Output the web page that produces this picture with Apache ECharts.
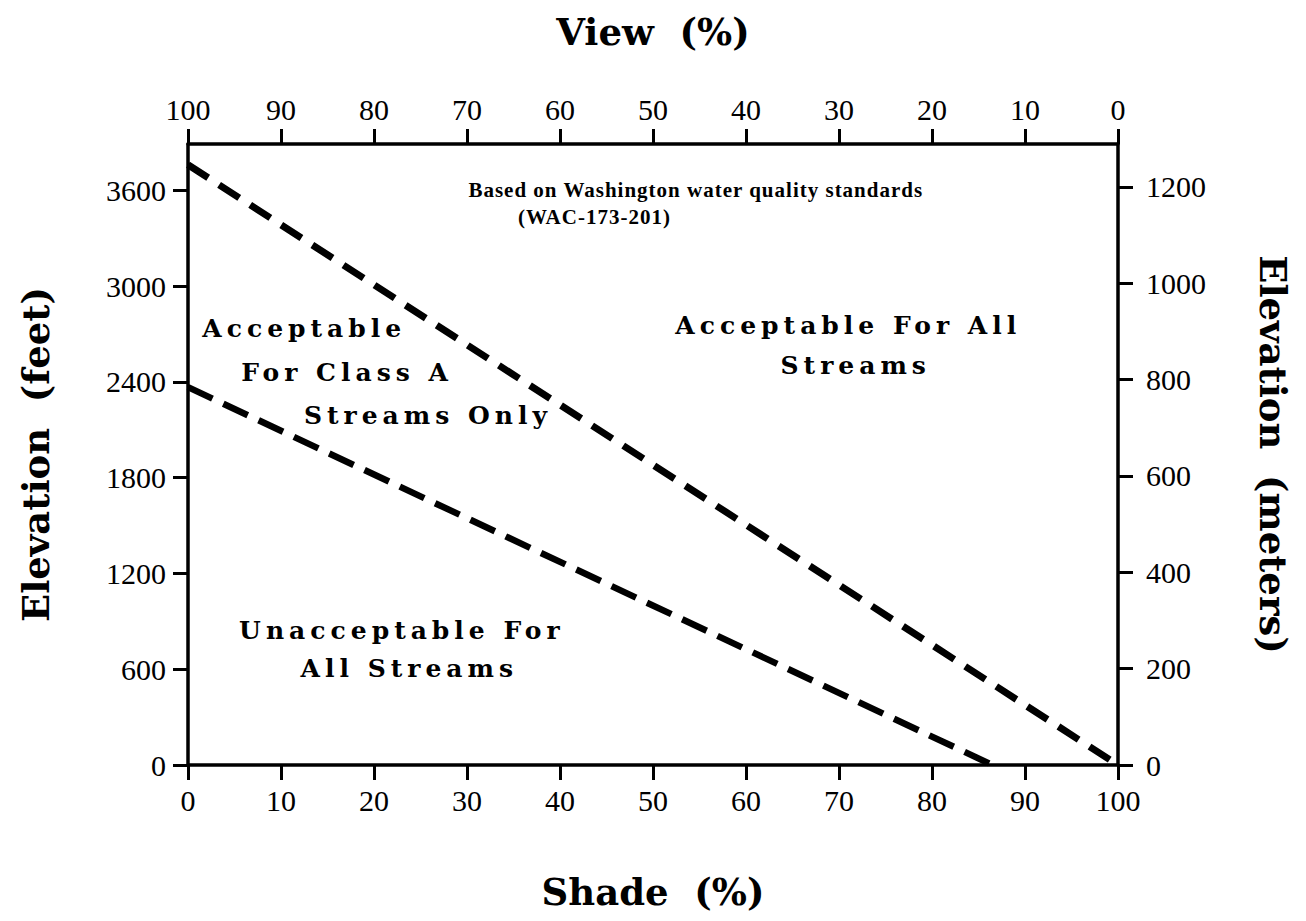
<!DOCTYPE html>
<html><head><meta charset="utf-8">
<script src="https://cdn.jsdelivr.net/npm/echarts@6/dist/echarts.min.js"></script>
<style>
html,body{margin:0;padding:0;background:#fff;}
#chart{width:1306px;height:921px;}
#chart text{white-space:pre;}
#chart text[style*="25px"]{letter-spacing:5px;}
#chart text[style*="21px"]{letter-spacing:1px;}
</style></head><body><div id="chart"></div>
<script>
// ---- data ----
const feetTicks = [0, 600, 1200, 1800, 2400, 3000, 3600];
const meterTicks = [0, 200, 400, 600, 800, 1000, 1200];
// [shade %, elevation ft]
const upperLine = [[0, 3760], [100, 0]];
const lowerLine = [[0, 2367], [86.5, 0]];
// [shade %, elevation ft, text]
const regionLabels = [
  [12.5, 2736, 'Acceptable'],
  [17.1, 2460, 'For Class A'],
  [25.8, 2191, 'Streams Only'],
  [71.0, 2755, 'Acceptable For All'],
  [71.8, 2504, 'Streams'],
  [23.0, 845, 'Unacceptable For'],
  [23.8, 607, 'All Streams']
];
const noteLabels = [
  [54.6, 3600, 'Based on Washington water quality standards'],
  [43.7, 3431, '(WAC-173-201)']
];

// ---- styles ----
const axisLine = {show: true, onZero: false, lineStyle: {color: '#000', width: 3.5}};
const tick = {show: true, inside: false, length: 15, lineStyle: {color: '#000', width: 3}};
const plain = v => String(v);
const tickFont = {color: '#000', fontFamily: '"Liberation Serif", serif', fontSize: 30, formatter: plain};
const nameFont = {color: '#000', fontFamily: '"DejaVu Serif", serif', fontWeight: 'bold', fontSize: 37};

const chart = echarts.init(document.getElementById('chart'), null, {renderer: 'svg'});
chart.setOption({
  animation: false,
  backgroundColor: '#fff',
  grid: {left: 188, right: 188, top: 144, bottom: 156, containLabel: false, outerBoundsMode: 'none'},
  xAxis: [
    {type: 'value', position: 'bottom', min: 0, max: 100, interval: 10,
     axisLine, axisTick: tick, splitLine: {show: false},
     axisLabel: Object.assign({margin: 20}, tickFont),
     name: 'Shade  (%)', nameLocation: 'middle', nameGap: 108, nameTextStyle: nameFont},
    {type: 'value', position: 'top', inverse: true, min: 0, max: 100, interval: 10,
     axisLine, axisTick: tick, splitLine: {show: false},
     axisLabel: Object.assign({margin: 20}, tickFont),
     name: 'View  (%)', nameLocation: 'middle', nameGap: 94, nameTextStyle: nameFont}
  ],
  yAxis: [
    {type: 'value', position: 'left', min: 0, max: 3890,
     axisLine, axisTick: Object.assign({customValues: feetTicks}, tick), splitLine: {show: false},
     axisLabel: Object.assign({margin: 22, customValues: feetTicks}, tickFont),
     name: 'Elevation  (feet)', nameLocation: 'middle', nameGap: 134, nameTextStyle: nameFont},
    {type: 'value', position: 'right', min: 0, max: 1289,
     axisLine, axisTick: Object.assign({customValues: meterTicks}, tick), splitLine: {show: false},
     axisLabel: Object.assign({margin: 28, customValues: meterTicks}, tickFont),
     name: 'Elevation  (meters)', nameLocation: 'middle', nameRotate: -90, nameGap: 136, nameTextStyle: nameFont}
  ],
  series: [
    {type: 'line', xAxisIndex: 0, yAxisIndex: 0, data: upperLine, symbol: 'none', silent: true,
     lineStyle: {color: '#000', width: 7, type: [24, 13], cap: 'butt'}},
    {type: 'line', xAxisIndex: 0, yAxisIndex: 0, data: lowerLine, symbol: 'none', silent: true,
     lineStyle: {color: '#000', width: 6.5, type: [27, 12], cap: 'butt'}},
    {type: 'scatter', xAxisIndex: 0, yAxisIndex: 0, symbolSize: 1, silent: true,
     itemStyle: {color: 'rgba(0,0,0,0)', opacity: 1},
     data: regionLabels.map(d => ({value: [d[0], d[1]], name: d[2]})),
     label: {show: true, position: 'inside', formatter: '{b}', color: '#000', opacity: 1,
             textBorderWidth: 0,
             fontFamily: '"DejaVu Serif", serif', fontWeight: 'bold', fontSize: 25}},
    {type: 'scatter', xAxisIndex: 0, yAxisIndex: 0, symbolSize: 1, silent: true,
     itemStyle: {color: 'rgba(0,0,0,0)', opacity: 1},
     data: noteLabels.map(d => ({value: [d[0], d[1]], name: d[2]})),
     label: {show: true, position: 'inside', formatter: '{b}', color: '#000', opacity: 1,
             textBorderWidth: 0,
             fontFamily: '"Liberation Serif", serif', fontWeight: 'bold', fontSize: 21}}
  ]
});
</script></body></html>
